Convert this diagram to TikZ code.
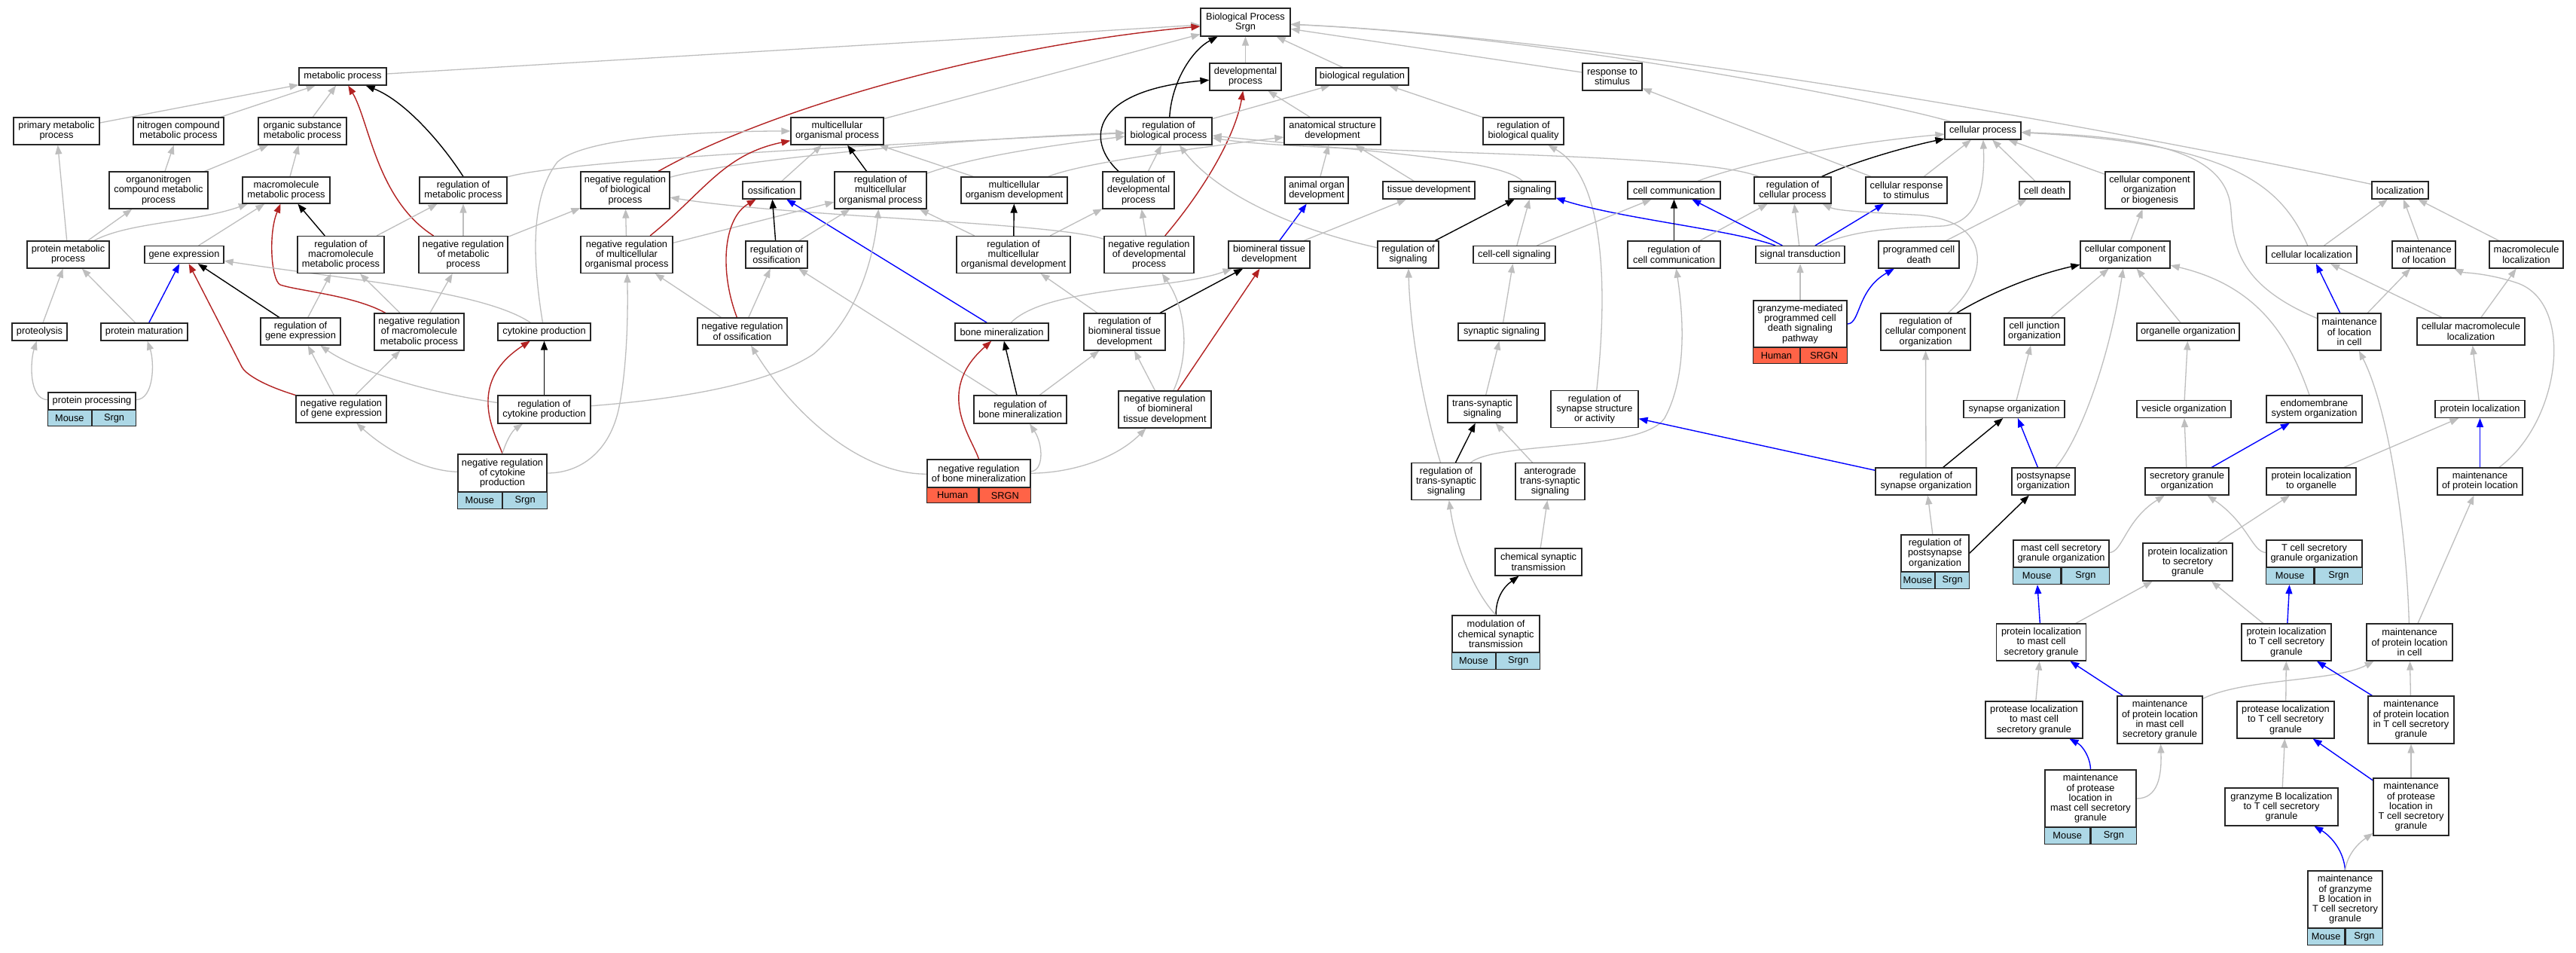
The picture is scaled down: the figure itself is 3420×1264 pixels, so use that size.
\documentclass[tikz,border=0pt]{standalone}
\usepackage{fontspec}
\setmainfont{Liberation Sans}
\usetikzlibrary{arrows.meta}
\definecolor{edgegrey}{HTML}{BEBEBE}
\definecolor{goblue}{HTML}{0000FF}
\definecolor{gored}{HTML}{B22222}
\definecolor{msfill}{HTML}{ADD8E6}
\definecolor{hsfill}{HTML}{FF6347}
\newcommand{\gofont}{\fontsize{12.8}{13.25}\selectfont}
\pgfdeclarelayer{bg}
\pgfdeclarelayer{edges}
\pgfsetlayers{bg,edges,main}
\tikzset{
  gobox/.style={draw=black!85,line width=1.2pt,fill=white,inner sep=0pt,align=center,font=\gofont},
  barcell/.style={draw=black!85,line width=1.2pt,inner sep=0pt,font=\gofont},
  edgebase/.style={-{Triangle[length=12pt,width=9pt]}},
  ge/.style={edgebase,draw=edgegrey,line width=1.3pt},
  gk/.style={edgebase,draw=black,line width=1.4pt},
  gb/.style={edgebase,draw=goblue,line width=1.4pt},
  gr/.style={edgebase,draw=gored,line width=1.4pt}
}
\newcommand{\gn}[6]{\node[gobox,minimum width=#4pt,minimum height=#5pt] (#1) at (#2,#3) {#6};}
\newcommand{\gobar}[8]{%
  \pgfmathsetmacro{\gobarh}{#4-#3}%
  \pgfmathsetmacro{\gobarw}{#5/2}%
  \node[barcell,fill=#6,minimum width=\gobarw pt,minimum height=\gobarh pt,anchor=north east] (#1L) at (#2,#3) {#7};%
  \node[barcell,fill=#6,minimum width=\gobarw pt,minimum height=\gobarh pt,anchor=north west] (#1R) at (#2,#3) {#8};%
}
\begin{document}
\begin{tikzpicture}[x=1pt,y=-1pt]
\begin{pgfonlayer}{bg}
\fill[white] (0,0) rectangle (3420,1264);
\end{pgfonlayer}
\useasboundingbox (0,0) rectangle (3420,1264);
% ---------- nodes ----------
\gn{BP}{1653.5}{29.5}{119}{37}{Biological Process\\Srgn}
\gn{metab}{455}{101.5}{116}{23}{metabolic process}
\gn{devproc}{1653.5}{102}{95}{36}{developmental\\process}
\gn{bioreg}{1808.5}{101.5}{123}{23}{biological regulation}
\gn{resp}{2140.5}{102}{79}{36}{response to\\stimulus}
\gn{primmet}{75}{174}{114}{36}{primary metabolic\\process}
\gn{nitro}{237}{174}{120}{36}{nitrogen compound\\metabolic process}
\gn{orgsub}{401.5}{174}{117}{36}{organic substance\\metabolic process}
\gn{multorg}{1111.5}{174}{123}{36}{multicellular\\organismal process}
\gn{regbio}{1551.5}{174}{115}{36}{regulation of\\biological process}
\gn{asd}{1769}{174}{128}{36}{anatomical structure\\development}
\gn{regbq}{2022.5}{174}{107}{36}{regulation of\\biological quality}
\gn{cellproc}{2632.5}{173.5}{101}{23}{cellular process}
\gn{organon}{210.5}{252.5}{131}{49}{organonitrogen\\compound metabolic\\process}
\gn{macromet}{380}{252.5}{116}{35}{macromolecule\\metabolic process}
\gn{regmet}{615}{252.5}{116}{35}{regulation of\\metabolic process}
\gn{negregbio}{830}{252.5}{118}{49}{negative regulation\\of biological\\process}
\gn{ossif}{1024.5}{252.5}{77}{23}{ossification}
\gn{regmultorg}{1169}{252.5}{122}{49}{regulation of\\multicellular\\organismal process}
\gn{multdev}{1346.5}{252.5}{141}{35}{multicellular\\organism development}
\gn{regdev}{1511.5}{252.5}{95}{49}{regulation of\\developmental\\process}
\gn{aod}{1748}{252.5}{84}{35}{animal organ\\development}
\gn{tissdev}{1897}{252.5}{122}{23}{tissue development}
\gn{signaling}{2034}{252.5}{62}{23}{signaling}
\gn{cellcomm}{2222.5}{252.5}{123}{23}{cell communication}
\gn{regcellproc}{2380}{252.5}{102}{35}{regulation of\\cellular process}
\gn{cellresp}{2531}{252.5}{108}{35}{cellular response\\to stimulus}
\gn{celldeath}{2714.5}{252.5}{67}{23}{cell death}
\gn{cob}{2854}{252.5}{118}{49}{cellular component\\organization\\or biogenesis}
\gn{localization}{3186.5}{252.5}{75}{23}{localization}
\gn{protmet}{90.5}{338}{109}{36}{protein metabolic\\process}
\gn{geneexp}{244.5}{338}{105}{23}{gene expression}
\gn{regmacro}{452.5}{338}{115}{49}{regulation of\\macromolecule\\metabolic process}
\gn{negregmet}{615}{338}{118}{49}{negative regulation\\of metabolic\\process}
\gn{negregmultorg}{832}{338}{122}{49}{negative regulation\\of multicellular\\organismal process}
\gn{regossif}{1031}{338}{82}{36}{regulation of\\ossification}
\gn{regmultdev}{1345.5}{338}{151}{49}{regulation of\\multicellular\\organismal development}
\gn{negregdev}{1525.5}{338}{119}{49}{negative regulation\\of developmental\\process}
\gn{biomin}{1685}{338}{108}{36}{biomineral tissue\\development}
\gn{regsig}{1869.5}{338}{81}{36}{regulation of\\signaling}
\gn{cellcell}{2010.5}{338}{109}{23}{cell-cell signaling}
\gn{regcellcomm}{2222.5}{338}{123}{36}{regulation of\\cell communication}
\gn{sigtrans}{2390}{338}{118}{23}{signal transduction}
\gn{pcd}{2547.5}{338}{107}{36}{programmed cell\\death}
\gn{cco}{2821.5}{338}{119}{36}{cellular component\\organization}
\gn{cellloc}{3069}{338}{120}{23}{cellular localization}
\gn{mainloc}{3218}{338}{84}{36}{maintenance\\of location}
\gn{macroloc}{3354}{338}{98}{36}{macromolecule\\localization}
\gn{proteolysis}{52.5}{440.5}{73}{23}{proteolysis}
\gn{protmat}{191.5}{440.5}{115}{23}{protein maturation}
\gn{reggene}{399}{440}{106}{36}{regulation of\\gene expression}
\gn{negregmacro}{556.5}{440.5}{119}{49}{negative regulation\\of macromolecule\\metabolic process}
\gn{cytprod}{722.5}{440.5}{123}{23}{cytokine production}
\gn{negregossif}{985.5}{440}{119}{36}{negative regulation\\of ossification}
\gn{bonemin}{1330}{440.5}{124}{23}{bone mineralization}
\gn{regbiomin}{1493}{440.5}{108}{49}{regulation of\\biomineral tissue\\development}
\gn{synsig}{1993.5}{440.5}{115}{23}{synaptic signaling}
\gn{granzpath}{2390}{430}{124}{62}{granzyme-mediated\\programmed cell\\death signaling\\pathway}
\gobar{granzpath}{2390}{461}{482}{124}{hsfill}{Human}{SRGN}
\gn{regcco}{2556.5}{440.5}{119}{49}{regulation of\\cellular component\\organization}
\gn{celljunc}{2701}{440}{80}{36}{cell junction\\organization}
\gn{organelle}{2905}{440.5}{136}{23}{organelle organization}
\gn{mainloccell}{3119}{440.5}{84}{49}{maintenance\\of location\\in cell}
\gn{cellmacroloc}{3280.5}{440}{143}{36}{cellular macromolecule\\localization}
\gn{protproc}{122}{532.5}{116}{23}{protein processing}
\gobar{protproc}{122}{544}{565}{116}{msfill}{Mouse}{Srgn}
\gn{negreggene}{453}{543}{120}{36}{negative regulation\\of gene expression}
\gn{regcyt}{722.5}{543.5}{123}{37}{regulation of\\cytokine production}
\gn{regbonemin}{1354.5}{543.5}{123}{37}{regulation of\\bone mineralization}
\gn{negregbiomin}{1546.5}{543.5}{123}{49}{negative regulation\\of biomineral\\tissue development}
\gn{transsyn}{1968}{543}{92}{36}{trans-synaptic\\signaling}
\gn{regsynstruct}{2117}{543}{116}{49}{regulation of\\synapse structure\\or activity}
\gn{synorg}{2674}{543}{134}{23}{synapse organization}
\gn{vesicle}{2899.5}{543}{125}{23}{vesicle organization}
\gn{endomem}{3072.5}{543}{127}{36}{endomembrane\\system organization}
\gn{protloc}{3292.5}{543}{119}{23}{protein localization}
\gn{negregcyt}{667}{628}{118}{50}{negative regulation\\of cytokine\\production}
\gobar{negregcyt}{667}{653}{675}{118}{msfill}{Mouse}{Srgn}
\gn{negregbonemin}{1299.5}{628.5}{137}{37}{negative regulation\\of bone mineralization}
\gobar{negregbonemin}{1299.5}{647}{667}{137}{hsfill}{Human}{SRGN}
\gn{regtranssyn}{1920}{639}{92}{49}{regulation of\\trans-synaptic\\signaling}
\gn{antero}{2058}{639}{92}{49}{anterograde\\trans-synaptic\\signaling}
\gn{regsynorg}{2557}{639}{134}{36}{regulation of\\synapse organization}
\gn{postsyn}{2713}{639}{84}{36}{postsynapse\\organization}
\gn{secgran}{2903.5}{639}{111}{36}{secretory granule\\organization}
\gn{protlocorg}{3068.5}{639}{119}{36}{protein localization\\to organelle}
\gn{mainprotloc}{3292.5}{639}{113}{36}{maintenance\\of protein location}
\gn{chemsyn}{2042.5}{746}{115}{36}{chemical synaptic\\transmission}
\gn{regpostsyn}{2569}{734.5}{90}{49}{regulation of\\postsynapse\\organization}
\gobar{regpostsyn}{2569}{759}{781}{90}{msfill}{Mouse}{Srgn}
\gn{mastsgo}{2736.5}{735}{127}{36}{mast cell secretory\\granule organization}
\gobar{mastsgo}{2736.5}{753}{775}{127}{msfill}{Mouse}{Srgn}
\gn{protlocsg}{2904.5}{746}{119}{50}{protein localization\\to secretory\\granule}
\gn{tsgo}{3072.5}{735}{127}{36}{T cell secretory\\granule organization}
\gobar{tsgo}{3072.5}{753}{775}{127}{msfill}{Mouse}{Srgn}
\gn{modchem}{1986}{841.5}{116}{49}{modulation of\\chemical synaptic\\transmission}
\gobar{modchem}{1986}{866}{888}{116}{msfill}{Mouse}{Srgn}
\gn{plmast}{2710}{852.5}{119}{49}{protein localization\\to mast cell\\secretory granule}
\gn{pltcell}{3035.5}{852.5}{119}{49}{protein localization\\to T cell secretory\\granule}
\gn{mplcell}{3199}{852.5}{114}{49}{maintenance\\of protein location\\in cell}
\gn{protmast}{2700.5}{955.5}{129}{49}{protease localization\\to mast cell\\secretory granule}
\gn{mplmast}{2867.5}{955.5}{113}{63}{maintenance\\of protein location\\in mast cell\\secretory granule}
\gn{prottcell}{3034.5}{955.5}{129}{49}{protease localization\\to T cell secretory\\granule}
\gn{mpltcell}{3201}{955.5}{114}{63}{maintenance\\of protein location\\in T cell secretory\\granule}
\gn{mprotmast}{2775.5}{1060}{121}{76}{maintenance\\of protease\\location in\\mast cell secretory\\granule}
\gobar{mprotmast}{2775.5}{1098}{1119.5}{121}{msfill}{Mouse}{Srgn}
\gn{granzB}{3029}{1071}{150}{50}{granzyme B localization\\to T cell secretory\\granule}
\gn{mprottcell}{3201}{1071}{100}{76}{maintenance\\of protease\\location in\\T cell secretory\\granule}
\gn{mgranzB}{3113.5}{1194}{99}{76}{maintenance\\of granzyme\\B location in\\T cell secretory\\granule}
\gobar{mgranzB}{3113.5}{1232}{1254}{99}{msfill}{Mouse}{Srgn}
% ---------- edges ----------
\begin{pgfonlayer}{edges}
\draw[ge] (metab) -- (BP);
\draw[gr] (negregbio) .. controls (1010,150) and (1300,62) .. (BP);
\draw[ge] (multorg) -- (BP);
\draw[ge] (cellproc) .. controls (2480,130) and (2050,48) .. (BP);
\draw[ge] (resp) -- (BP);
\draw[ge] (localization) .. controls (2700,150) and (2100,50) .. (BP);
\draw[ge] (bioreg) -- (BP);
\draw[ge] (devproc) -- (BP);
\draw[gk] (regbio) .. controls (1556,105) and (1585,65) .. (BP);
\draw[ge] (primmet) -- (metab);
\draw[ge] (nitro) -- (metab);
\draw[ge] (orgsub) -- (metab);
\draw[ge] (organon) -- (nitro);
\draw[ge] (organon) -- (orgsub);
\draw[ge] (macromet) -- (orgsub);
\draw[gk] (regmet.north) .. controls (590,195) and (540,135) .. (metab);
\draw[gr] (negregmet) .. controls (500,265) and (490,160) .. (metab);
\draw[ge] (regmet) .. controls (740,215) and (1100,195) .. (regbio);
\draw[ge] (negregmet) -- (negregbio);
\draw[ge] (negregmet) -- (regmet);
\draw[ge] (protmet) -- (primmet);
\draw[ge] (protmet) -- (organon);
\draw[ge] (protmet) .. controls (170,295) and (260,295) .. (macromet);
\draw[ge] (geneexp) -- (macromet);
\draw[gk] (regmacro) -- (macromet);
\draw[ge] (regmacro) -- (regmet);
\draw[ge] (proteolysis) -- (protmet);
\draw[ge] (protmat) -- (protmet);
\draw[gb] (protmat) -- (geneexp);
\draw[gk] (reggene) -- (geneexp);
\draw[ge] (reggene) -- (regmacro);
\draw[gr] (negregmacro) .. controls (470,392) and (395,386) .. (372,378) .. controls (360,372) and (356,310) .. (macromet);
\draw[ge] (negregmacro) -- (regmacro);
\draw[ge] (negregmacro) -- (negregmet);
\draw[gr] (negreggene) .. controls (345,510) and (325,495) .. (321,487) -- (geneexp);
\draw[ge] (negreggene) -- (reggene);
\draw[ge] (negreggene) -- (negregmacro);
\draw[ge] (protproc) .. controls (38,530) and (40,480) .. (proteolysis);
\draw[ge] (protproc) .. controls (205,530) and (205,480) .. (protmat);
\draw[ge] (cytprod) .. controls (640,385) and (450,370) .. (geneexp);
\draw[ge] (regcyt) .. controls (560,520) and (470,490) .. (reggene);
\draw[ge] (negregcyt) .. controls (560,625) and (510,595) .. (negreggene);
\draw[gr] (negregcyt.north) .. controls (660,580) and (615,510) .. (cytprod);
\draw[ge] (negregcyt.north) .. controls (672,585) and (680,572) .. (regcyt);
\draw[gk] (regcyt) -- (cytprod);
\draw[ge] (negregcyt) .. controls (770,628) and (810,600) .. (822,540) .. controls (832,490) and (834,420) .. (negregmultorg);
\draw[ge] (cytprod) .. controls (706,340) and (705,260) .. (740,215) .. controls (780,180) and (950,174) .. (multorg);
\draw[ge] (negregbio) .. controls (960,215) and (1250,185) .. (regbio);
\draw[ge] (regmultorg) .. controls (1300,205) and (1420,190) .. (regbio);
\draw[ge] (negregmultorg) -- (negregbio);
\draw[ge] (negregdev) .. controls (1400,295) and (1050,288) .. (negregbio);
\draw[gr] (negregmultorg) .. controls (935,255) and (960,205) .. (multorg);
\draw[ge] (negregmultorg) -- (regmultorg);
\draw[ge] (ossif) -- (multorg);
\draw[gk] (regmultorg) -- (multorg);
\draw[ge] (multdev) -- (multorg);
\draw[gk] (regossif) -- (ossif);
\draw[gr] (negregossif) .. controls (955,360) and (960,290) .. (ossif);
\draw[gb] (bonemin) -- (ossif);
\draw[ge] (regossif) -- (regmultorg);
\draw[ge] (regmultdev) -- (regmultorg);
\draw[ge] (regcyt) .. controls (900,530) and (1020,510) .. (1080,470) .. controls (1140,420) and (1160,340) .. (regmultorg);
\draw[ge] (negregossif) -- (negregmultorg);
\draw[ge] (negregossif) -- (regossif);
\draw[ge] (regbonemin) -- (regossif);
\draw[ge] (negregbonemin) .. controls (1150,630) and (1060,560) .. (negregossif);
\draw[gr] (negregbonemin.north) .. controls (1290,580) and (1240,520) .. (bonemin);
\draw[ge] (negregbonemin) .. controls (1386,625) and (1385,590) .. (regbonemin);
\draw[ge] (negregbonemin) .. controls (1420,628) and (1480,610) .. (negregbiomin);
\draw[gk] (regbonemin) -- (bonemin);
\draw[ge] (regbonemin) -- (regbiomin);
\draw[ge] (bonemin) .. controls (1390,380) and (1560,385) .. (biomin);
\draw[gk] (regbiomin) -- (biomin);
\draw[ge] (regbiomin) -- (regmultdev);
\draw[ge] (negregbiomin) -- (regbiomin);
\draw[gr] (negregbiomin) -- (biomin);
\draw[ge] (negregbiomin) .. controls (1580,470) and (1575,410) .. (negregdev);
\draw[ge] (negregdev) -- (regdev);
\draw[gr] (negregdev) .. controls (1600,250) and (1640,180) .. (devproc);
\draw[ge] (regdev) -- (regbio);
\draw[gk] (regdev) .. controls (1440,185) and (1450,120) .. (devproc);
\draw[ge] (regmultdev) -- (regdev);
\draw[gk] (regmultdev) -- (multdev);
\draw[ge] (multdev) .. controls (1440,215) and (1600,195) .. (asd);
\draw[ge] (asd) -- (devproc);
\draw[ge] (aod) -- (asd);
\draw[ge] (tissdev) -- (asd);
\draw[gb] (biomin) -- (aod);
\draw[ge] (biomin) -- (tissdev);
\draw[ge] (regbio) -- (bioreg);
\draw[ge] (regbq) -- (bioreg);
\draw[ge] (regsig) .. controls (1700,300) and (1610,250) .. (regbio);
\draw[ge] (regcellproc) .. controls (2250,200) and (1750,205) .. (regbio);
\draw[ge] (signaling) .. controls (1990,210) and (1800,200) .. (regbio);
\draw[ge] (regsynstruct) .. controls (2135,380) and (2130,235) .. (regbq);
\draw[gk] (regsig) -- (signaling);
\draw[ge] (cellcell) -- (signaling);
\draw[gb] (sigtrans) .. controls (2300,305) and (2150,290) .. (signaling);
\draw[ge] (regtranssyn) .. controls (1890,540) and (1872,440) .. (regsig);
\draw[ge] (cellcell) -- (cellcomm);
\draw[ge] (synsig) -- (cellcell);
\draw[ge] (transsyn) -- (synsig);
\draw[gk] (regtranssyn) -- (transsyn);
\draw[ge] (antero) -- (transsyn);
\draw[ge] (chemsyn) -- (antero);
\draw[gk] (modchem.north) .. controls (1986,795) and (1995,780) .. (chemsyn);
\draw[ge] (modchem.north) .. controls (1965,795) and (1935,740) .. (regtranssyn);
\draw[ge] (regtranssyn) .. controls (1990,585) and (2180,600) .. (2210,555) .. controls (2240,500) and (2235,420) .. (regcellcomm);
\draw[gk] (regcellcomm) -- (cellcomm);
\draw[ge] (regcellcomm) -- (regcellproc);
\draw[ge] (cellcomm) .. controls (2320,215) and (2450,190) .. (cellproc);
\draw[gk] (regcellproc) .. controls (2460,215) and (2530,195) .. (cellproc);
\draw[ge] (cellresp) -- (cellproc);
\draw[ge] (cellresp) -- (resp);
\draw[ge] (celldeath) -- (cellproc);
\draw[ge] (pcd) -- (celldeath);
\draw[ge] (sigtrans) -- (regcellproc);
\draw[gb] (sigtrans) -- (cellcomm);
\draw[gb] (sigtrans) -- (cellresp);
\draw[ge] (sigtrans) .. controls (2460,305) and (2520,302) .. (2580,300) .. controls (2630,295) and (2635,240) .. (cellproc);
\draw[ge] (granzpath) -- (sigtrans);
\draw[gb] (granzpath) .. controls (2470,430) and (2465,385) .. (pcd);
\draw[ge] (regcco) .. controls (2640,370) and (2650,290) .. (2540,285) .. controls (2480,282) and (2440,280) .. (regcellproc);
\draw[gk] (regcco) .. controls (2640,390) and (2700,365) .. (cco);
\draw[ge] (regsynorg) -- (regcco);
\draw[gk] (regsynorg) -- (synorg);
\draw[gb] (regsynorg) -- (regsynstruct);
\draw[gb] (postsyn) -- (synorg);
\draw[ge] (postsyn) .. controls (2760,585) and (2800,480) .. (cco);
\draw[ge] (regpostsyn) -- (regsynorg);
\draw[gk] (regpostsyn.east) -- (postsyn);
\draw[ge] (celljunc) -- (cco);
\draw[ge] (synorg) -- (celljunc);
\draw[ge] (organelle) -- (cco);
\draw[ge] (vesicle) -- (organelle);
\draw[ge] (cco) -- (cob);
\draw[ge] (cob) -- (cellproc);
\draw[ge] (endomem) .. controls (3040,450) and (3000,380) .. (cco);
\draw[ge] (secgran) -- (vesicle);
\draw[gb] (secgran) -- (endomem);
\draw[ge] (macroloc) -- (localization);
\draw[ge] (mainloc) -- (localization);
\draw[ge] (cellloc) -- (localization);
\draw[ge] (cellloc) .. controls (3030,250) and (2970,190) .. (cellproc);
\draw[ge] (mainloccell) .. controls (2975,380) and (2965,330) .. (2962,280) .. controls (2958,200) and (2850,182) .. (cellproc);
\draw[gb] (mainloccell) -- (cellloc);
\draw[ge] (mainloccell) -- (mainloc);
\draw[ge] (cellmacroloc) -- (cellloc);
\draw[ge] (cellmacroloc) -- (macroloc);
\draw[ge] (protloc) -- (cellmacroloc);
\draw[ge] (mainprotloc) .. controls (3400,560) and (3420,400) .. (3340,375) .. controls (3300,362) and (3270,362) .. (mainloc);
\draw[gb] (mainprotloc) -- (protloc);
\draw[ge] (protlocorg) -- (protloc);
\draw[ge] (mastsgo) .. controls (2818,733) and (2822,690) .. (secgran);
\draw[ge] (tsgo) .. controls (2990,733) and (2985,695) .. (secgran);
\draw[ge] (protlocsg) -- (protlocorg);
\draw[gb] (plmast) -- (mastsgoL);
\draw[gb] (pltcell) -- (tsgoL);
\draw[ge] (plmast) -- (protlocsg);
\draw[ge] (pltcell) -- (protlocsg);
\draw[ge] (mplcell) -- (mainprotloc);
\draw[ge] (mplcell) .. controls (3195,700) and (3170,540) .. (mainloccell);
\draw[ge] (protmast) -- (plmast);
\draw[gb] (mplmast) -- (plmast);
\draw[ge] (mplmast) .. controls (2980,900) and (3100,905) .. (mplcell);
\draw[ge] (prottcell) -- (pltcell);
\draw[gb] (mpltcell) -- (pltcell);
\draw[ge] (mpltcell) -- (mplcell);
\draw[gb] (mprotmast.north) .. controls (2775,1005) and (2765,990) .. (protmast);
\draw[ge] (mprotmast) .. controls (2865,1060) and (2870,1030) .. (mplmast);
\draw[ge] (granzB) -- (prottcell);
\draw[gb] (mprottcell) -- (prottcell);
\draw[ge] (mprottcell) -- (mpltcell);
\draw[gb] (mgranzB.north) .. controls (3112,1130) and (3095,1110) .. (granzB);
\draw[ge] (mgranzB.north) .. controls (3116,1135) and (3130,1120) .. (mprottcell);
\end{pgfonlayer}
\end{tikzpicture}
\end{document}
